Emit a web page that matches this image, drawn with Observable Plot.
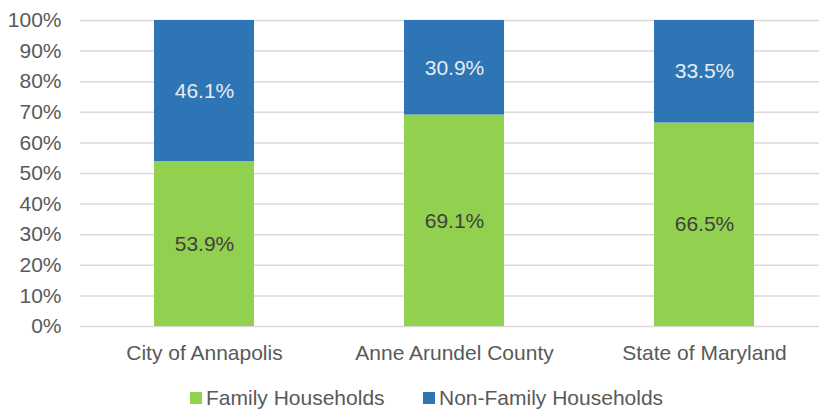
<!DOCTYPE html>
<html>
<head>
<meta charset="utf-8">
<script src="https://cdn.jsdelivr.net/npm/d3@7"></script>
<script src="https://cdn.jsdelivr.net/npm/@observablehq/plot@0.6"></script>
<style>
  body { margin: 0; background: #fff; font-family: "Liberation Sans", Arial, sans-serif; }
  #wrap { position: relative; width: 819px; height: 413px; }
  #legend { position: absolute; top: 375px; left: 0; width: 819px; height: 38px; font-size: 21px; color: #595959; }
  .item { position: absolute; top: 11px; display: flex; align-items: center; white-space: nowrap; line-height: 24px; }
  .sw { width: 12px; height: 12px; margin-right: 4px; display: inline-block; }
</style>
</head>
<body>
<div id="wrap">
  <div id="chart"></div>
  <div id="legend"></div>
</div>
<script>
const categories = ["City of Annapolis", "Anne Arundel County", "State of Maryland"];
const seriesNames = ["Family Households", "Non-Family Households"];
const familyValues = [53.9, 69.1, 66.5];
const nonFamilyValues = [46.1, 30.9, 33.5];
const yTicks = [0, 10, 20, 30, 40, 50, 60, 70, 80, 90, 100];
const colors = ["#92D050", "#2E75B6"];
const labelColors = ["#404040", "#e8ecf2"];

const data = [];
categories.forEach((c, i) => {
  data.push({category: c, type: seriesNames[0], value: familyValues[i]});
  data.push({category: c, type: seriesNames[1], value: nonFamilyValues[i]});
});

const chart = Plot.plot({
  width: 819,
  height: 375,
  marginLeft: 80,
  marginRight: 0,
  marginTop: 20,
  marginBottom: 49,
  style: { fontFamily: "'Liberation Sans', Arial, sans-serif", fontSize: "21px", color: "#595959", background: "#fff" },
  x: { domain: categories, range: [80, 828], paddingInner: 0.6, paddingOuter: 0.296, label: null },
  y: { domain: [0, 100], label: null },
  color: { domain: seriesNames, range: colors },
  marks: [
    Plot.ruleY(yTicks, { stroke: "#d9d9d9", strokeWidth: 1.5 }),
    Plot.barY(data, Plot.stackY({ x: "category", y: "value", fill: "type", order: null })),
    Plot.text(data, Plot.stackY({
      x: "category", y: "value", z: "type", order: null,
      text: d => d.value.toFixed(1) + "%",
      fill: d => d.type === seriesNames[0] ? labelColors[0] : labelColors[1],
      fontSize: 21
    })),
    Plot.axisY(yTicks, { tickSize: 0, tickPadding: 19, tickFormat: d => d + "%", fontSize: 21, fill: "#595959", label: null }),
    Plot.axisX({ tickSize: 0, tickPadding: 19, fontSize: 21, fill: "#595959", label: null })
  ]
});
document.getElementById("chart").appendChild(chart);

const legend = document.getElementById("legend");
const lefts = [190, 423];
seriesNames.forEach((name, i) => {
  const it = document.createElement("div");
  it.className = "item";
  it.style.left = lefts[i] + "px";
  const sw = document.createElement("span");
  sw.className = "sw";
  sw.style.background = colors[i];
  it.appendChild(sw);
  it.appendChild(document.createTextNode(name));
  legend.appendChild(it);
});
</script>
</body>
</html>
